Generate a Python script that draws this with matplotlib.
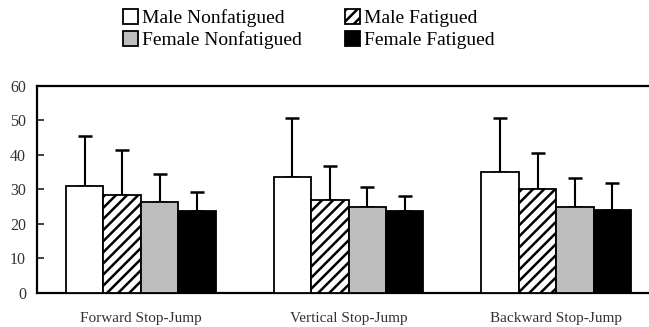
import matplotlib.pyplot as plt
import numpy as np

plt.rcParams['font.family'] = ['Liberation Serif', 'DejaVu Serif']
plt.rcParams['hatch.linewidth'] = 1.8

tasks = ['Forward Stop-Jump', 'Vertical Stop-Jump', 'Backward Stop-Jump']
series = ['Male Nonfatigued', 'Male Fatigued', 'Female Nonfatigued', 'Female Fatigued']
male_nf = [31.1, 33.7, 34.9]
male_f = [28.5, 27.0, 30.1]
female_nf = [26.2, 25.0, 24.9]
female_f = [23.7, 23.7, 23.9]
male_nf_sd = [14.2, 16.8, 15.8]
male_f_sd = [12.8, 9.8, 10.4]
female_nf_sd = [8.1, 5.6, 8.3]
female_f_sd = [5.4, 4.3, 7.8]

means = [male_nf, male_f, female_nf, female_f]
sds = [male_nf_sd, male_f_sd, female_nf_sd, female_f_sd]
colors = ['white', 'white', '#bdbdbd', 'black']
hatches = [None, '///', None, None]

fig = plt.figure(figsize=(6.49, 3.27), dpi=100)
ax = fig.add_axes([0.057, 0.104, 0.96, 0.634])

x = np.arange(len(tasks))
w = 0.18
bars = []
for i in range(4):
    pos = x + (i - 1.5) * w
    b = ax.bar(pos, means[i], w, color=colors[i], edgecolor='black', linewidth=1.3,
               hatch=hatches[i], zorder=3)
    ax.errorbar(pos, means[i], yerr=[np.zeros(3), sds[i]], fmt='none', ecolor='black',
                elinewidth=1.5, capsize=5, capthick=1.8, zorder=2)
    bars.append(b)

ax.set_xlim(-0.5, 2.5)
ax.set_ylim(0, 60)
ax.set_yticks(range(0, 61, 10))
ax.tick_params(axis='y', direction='in', length=5, width=1.3, labelsize=11.5, colors='#333333',
               labelcolor='#333333', pad=8)
ax.tick_params(axis='x', length=0, labelsize=11, pad=14, labelcolor='#333333')
ax.set_xticks(x)
ax.set_xticklabels(tasks)
for s in ['top', 'left', 'bottom']:
    ax.spines[s].set_linewidth(1.6)
ax.spines['right'].set_visible(False)

# column-wise fill: male/female nonfatigued left, fatigued right
order = [0, 2, 1, 3]
fig.legend([bars[i] for i in order], [series[i] for i in order], ncol=2, frameon=False,
           loc='upper left', bbox_to_anchor=(0.162, 1.027), fontsize=14, handlelength=0.8,
           handleheight=0.8, handletextpad=0.2, columnspacing=2.2, labelspacing=0.2)

plt.savefig('out.png', dpi=100)
